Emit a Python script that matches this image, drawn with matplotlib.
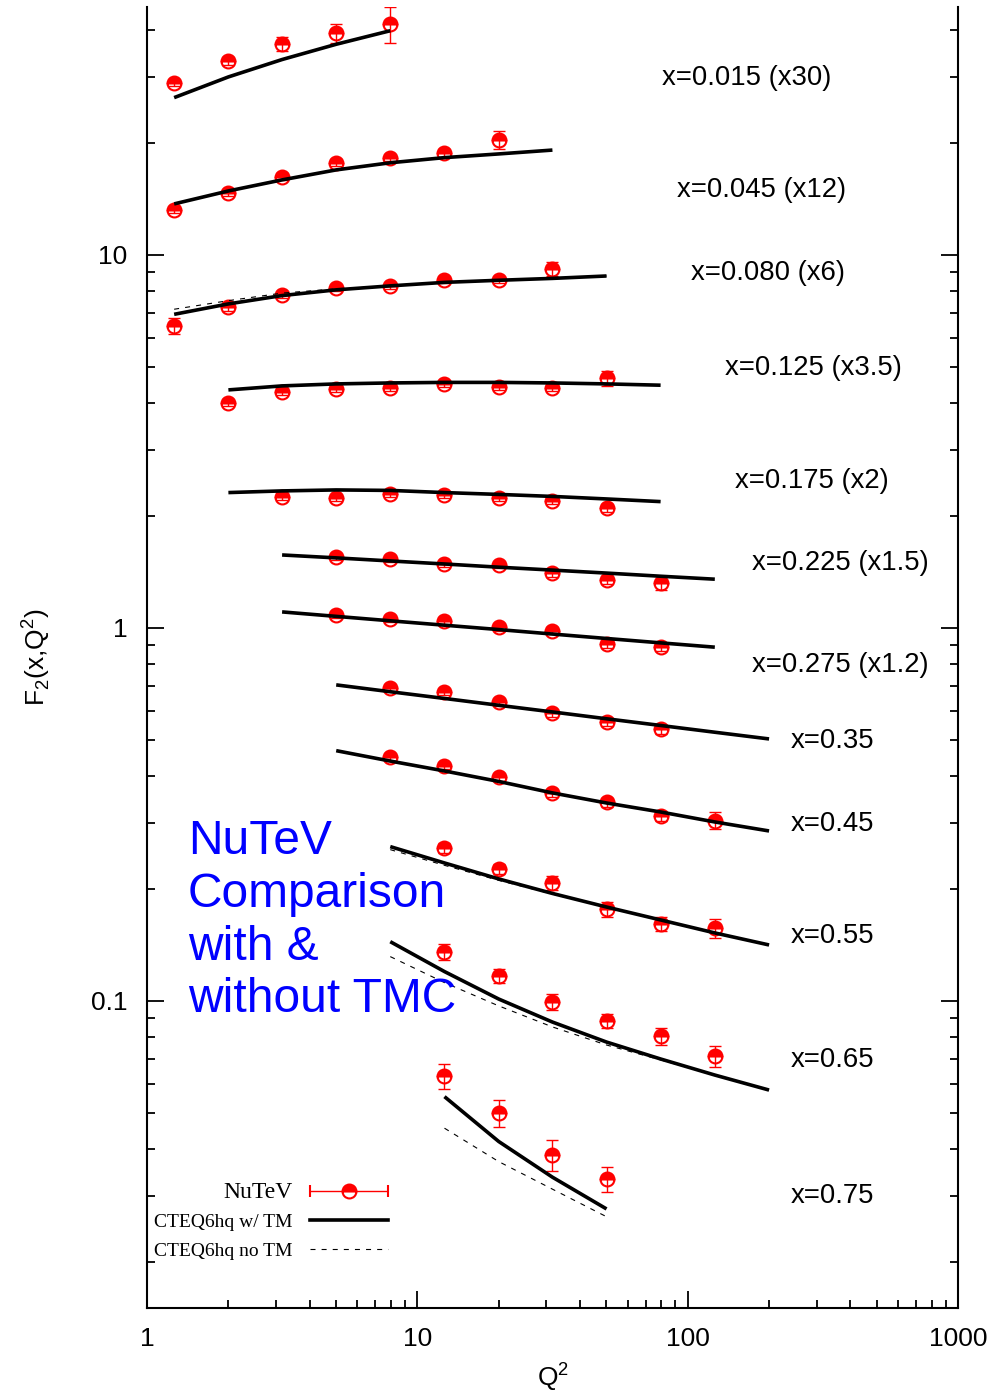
import numpy as np
import matplotlib
matplotlib.use('Agg')
import matplotlib.pyplot as plt
from matplotlib import ticker
from matplotlib.legend_handler import HandlerErrorbar

plt.rcParams['font.family'] = ['Liberation Sans', 'DejaVu Sans']
plt.rcParams['mathtext.fontset'] = 'custom'
plt.rcParams['mathtext.rm'] = 'Liberation Sans'

# Q^2 grid shared by all x bins
q2 = [1.26, 2.0, 3.16, 5.01, 7.94, 12.6, 20.0, 31.6, 50.1, 79.4, 126.0, 200.0]

bin_labels = ['x=0.015 (x30)', 'x=0.045 (x12)', 'x=0.080 (x6)', 'x=0.125 (x3.5)',
              'x=0.175 (x2)', 'x=0.225 (x1.5)', 'x=0.275 (x1.2)', 'x=0.35',
              'x=0.45', 'x=0.55', 'x=0.65', 'x=0.75']
label_q2 = [80.4, 91.4, 103, 137, 150, 173, 173, 241, 241, 241, 241, 241]
label_f2 = [29.8, 14.9, 8.95, 4.98, 2.48, 1.49, 0.796, 0.498, 0.299, 0.149, 0.0695, 0.030]

# NuTeV data (first index into q2 for each bin)
data_first = [0, 0, 0, 1, 2, 3, 3, 4, 4, 5, 5, 5]
f2_nutev = [
    [28.86, 33.18, 36.72, 39.29, 41.54],
    [13.20, 14.69, 16.22, 17.68, 18.23, 18.74, 20.34],
    [6.45, 7.27, 7.81, 8.14, 8.26, 8.57, 8.57, 9.17],
    [4.018, 4.30, 4.373, 4.39, 4.51, 4.436, 4.408, 4.67],
    [2.241, 2.227, 2.287, 2.273, 2.227, 2.194, 2.101],
    [1.547, 1.531, 1.484, 1.475, 1.407, 1.345, 1.323],
    [1.084, 1.057, 1.046, 1.004, 0.9835, 0.906, 0.888],
    [0.6893, 0.6725, 0.632, 0.5905, 0.5586, 0.535],
    [0.4499, 0.4266, 0.3978, 0.3618, 0.3409, 0.3133, 0.3043],
    [0.2572, 0.2259, 0.2072, 0.1764, 0.1608, 0.1569],
    [0.1356, 0.1167, 0.0994, 0.0884, 0.0805, 0.0712],
    [0.0629, 0.0500, 0.0387, 0.0333],
]
f2_err = [
    [0.55, 0.83, 1.62, 2.24, 4.57],
    [0.25, 0.28, 0.31, 0.34, 0.35, 0.47, 1.16],
    [0.33, 0.18, 0.15, 0.15, 0.16, 0.16, 0.16, 0.40],
    [0.08, 0.08, 0.08, 0.08, 0.09, 0.08, 0.08, 0.21],
    [0.043, 0.042, 0.043, 0.043, 0.042, 0.042, 0.05],
    [0.03, 0.03, 0.03, 0.03, 0.035, 0.034, 0.058],
    [0.02, 0.02, 0.02, 0.02, 0.02, 0.023, 0.022],
    [0.013, 0.013, 0.013, 0.012, 0.014, 0.014],
    [0.009, 0.008, 0.008, 0.009, 0.009, 0.010, 0.016],
    [0.008, 0.007, 0.009, 0.008, 0.007, 0.009],
    [0.0069, 0.0051, 0.0051, 0.0039, 0.0041, 0.0046],
    [0.0047, 0.0042, 0.0036, 0.0025],
]

# CTEQ6hq with target mass corrections
tm_first = [0, 0, 0, 1, 1, 2, 2, 3, 3, 4, 4, 5]
f2_tm = [
    [26.4, 30.0, 33.4, 36.7, 39.9],
    [13.70, 14.84, 15.89, 16.90, 17.66, 18.23, 18.65, 19.10],
    [6.93, 7.39, 7.78, 8.06, 8.26, 8.44, 8.55, 8.65, 8.78],
    [4.346, 4.455, 4.51, 4.537, 4.552, 4.552, 4.537, 4.51, 4.474],
    [2.306, 2.330, 2.344, 2.337, 2.306, 2.280, 2.252, 2.217, 2.181],
    [1.569, 1.541, 1.512, 1.484, 1.455, 1.429, 1.403, 1.376, 1.351],
    [1.104, 1.074, 1.045, 1.017, 0.990, 0.963, 0.937, 0.912, 0.888],
    [0.7036, 0.6745, 0.6471, 0.6204, 0.5954, 0.5708, 0.5477, 0.5253, 0.504],
    [0.4688, 0.4397, 0.4136, 0.3877, 0.3612, 0.3394, 0.3211, 0.3019, 0.2856],
    [0.2593, 0.2344, 0.2124, 0.1942, 0.1786, 0.1649, 0.1522, 0.1413],
    [0.1442, 0.1199, 0.1012, 0.0878, 0.0776, 0.0699, 0.0633, 0.0577],
    [0.0554, 0.0420, 0.0337, 0.0277],
]

# CTEQ6hq without TM (only where it differs visibly)
notm_bins = [2, 9, 10, 11]
notm_first = [0, 4, 4, 5]
f2_notm = [
    [7.15, 7.54, 7.90, 8.11, 8.26, 8.44, 8.55, 8.65, 8.78],
    [0.2545, 0.2310, 0.2105, 0.1935, 0.1782, 0.1647, 0.1521, 0.1412],
    [0.1315, 0.1120, 0.0970, 0.0852, 0.0762, 0.0695, 0.0633, 0.0577],
    [0.0456, 0.0371, 0.0313, 0.0264],
]

fig = plt.figure(figsize=(9.94, 13.94), dpi=100)
ax = fig.add_axes([0.1479, 0.0617, 0.8159, 0.9333])
ax.set_xscale('log')
ax.set_yscale('log')

mk = dict(marker='o', ms=10, mfc='red', mfcalt='white', mec='red', mew=1.5,
          fillstyle='top', ls='none')

for i in range(len(bin_labels)):
    xs = q2[data_first[i]:data_first[i] + len(f2_nutev[i])]
    ax.plot(xs, f2_nutev[i], zorder=2, **mk)
    ax.errorbar(xs, f2_nutev[i], yerr=f2_err[i], fmt='none', ecolor='red',
                elinewidth=1.0, capsize=4.5, capthick=1.0, zorder=2.5)
    xt = q2[tm_first[i]:tm_first[i] + len(f2_tm[i])]
    ax.plot(xt, f2_tm[i], color='black', lw=2.6, solid_capstyle='butt', zorder=4)
    ax.text(label_q2[i], label_f2[i], bin_labels[i], fontsize=19.8, va='center', ha='left')

for j, b in enumerate(notm_bins):
    xn = q2[notm_first[j]:notm_first[j] + len(f2_notm[j])]
    ax.plot(xn, f2_notm[j], color='black', lw=0.8, ls=(0, (4.5, 5.5)), zorder=3)

# legend handles
h_data = ax.errorbar([np.nan], [np.nan], xerr=[1.0], color='red', elinewidth=1.0,
                     capsize=4.5, capthick=1.0, **mk)
h_tm, = ax.plot([np.nan], [np.nan], color='black', lw=2.6)
h_notm, = ax.plot([np.nan], [np.nan], color='black', lw=0.8, ls=(0, (4.5, 5.5)))
leg = ax.legend([h_data, h_tm, h_notm], ['NuTeV', 'CTEQ6hq w/ TM', 'CTEQ6hq no TM'],
                loc='upper right', bbox_to_anchor=(0.297, 0.0969), frameon=False,
                markerfirst=False, handlelength=4.0, handletextpad=0.9,
                borderpad=0, borderaxespad=0, labelspacing=0.55, numpoints=1,
                prop={'family': 'Liberation Serif', 'size': 14},
                handler_map={type(h_data): HandlerErrorbar(xerr_size=2.0)})
leg.get_texts()[0].set_fontsize(17)

ax.text(1.418, 0.307, 'NuTeV\nComparison\nwith &\nwithout TMC', color='#0000ff',
        fontsize=34.5, va='top', ha='left', linespacing=1.22)

ax.set_xlim(1, 1000)
ax.set_ylim(0.01503, 46.2)

fmt = ticker.FuncFormatter(lambda v, p: f'{v:g}')
ax.xaxis.set_major_formatter(fmt)
ax.yaxis.set_major_formatter(fmt)
ax.xaxis.set_minor_formatter(ticker.NullFormatter())
ax.yaxis.set_minor_formatter(ticker.NullFormatter())
ax.yaxis.set_major_locator(ticker.LogLocator(base=10))
ax.yaxis.set_minor_locator(ticker.LogLocator(base=10, subs=np.arange(2, 10)))
ax.tick_params(which='both', direction='in', top=False, right=True, width=1.3,
               labelsize=19)
ax.tick_params(which='major', length=12, pad=14)
ax.tick_params(which='minor', length=6)
ax.spines['top'].set_visible(False)
for s in ['left', 'right', 'bottom']:
    ax.spines[s].set_linewidth(1.5)

ax.set_xlabel('Q$^{\\mathregular{2}}$', fontsize=19, labelpad=6)
ax.set_ylabel('F$_{\\mathregular{2}}$(x,Q$^{\\mathregular{2}}$)', fontsize=19, labelpad=28)

fig.savefig('out.png', dpi=100)
